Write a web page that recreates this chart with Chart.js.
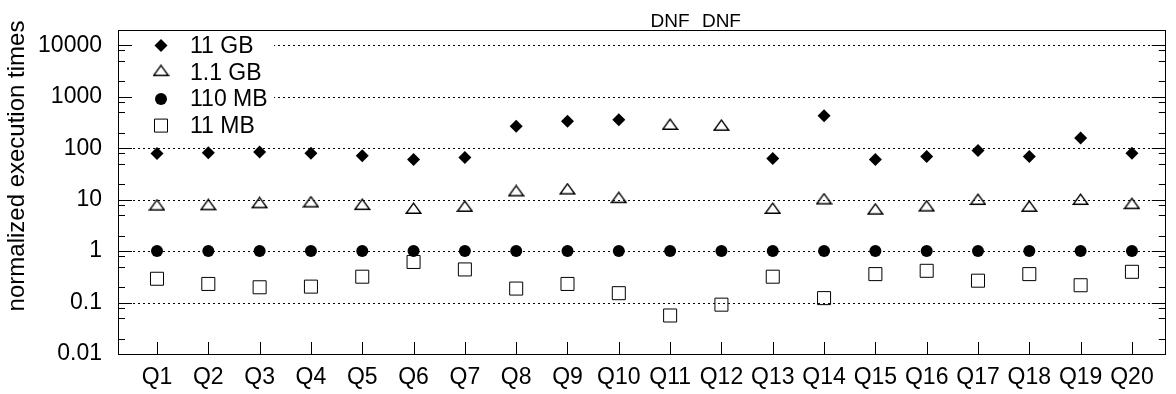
<!DOCTYPE html>
<html>
<head>
<meta charset="utf-8">
<title>Normalized execution times</title>
<script src="https://cdn.jsdelivr.net/npm/chart.js@4/dist/chart.umd.min.js"></script>
<style>
  html, body { margin: 0; padding: 0; background: #fff; }
  #wrap { width: 1176px; height: 394px; }
  canvas { display: block; }
</style>
</head>
<body>
<div id="wrap"><canvas id="chart" width="1176" height="394"></canvas></div>
<script>
// Queries on the x axis
const categories = ['Q1', 'Q2', 'Q3', 'Q4', 'Q5', 'Q6', 'Q7', 'Q8', 'Q9', 'Q10',
                    'Q11', 'Q12', 'Q13', 'Q14', 'Q15', 'Q16', 'Q17', 'Q18', 'Q19', 'Q20'];

// Execution times normalized to the 110 MB run (null = did not finish)
const gb11  = [79, 82, 84, 80, 71, 60, 66, 267, 333, 359, null, null, 63, 428, 60, 69, 90, 69, 157, 80];
const gb1_1 = [7.3, 7.4, 8.1, 8.4, 7.5, 6.3, 6.9, 13.8, 15, 10.2, 270, 260, 6.3, 9.6, 6.1, 7.0, 9.4, 6.9, 9.4, 7.8];
const mb110 = [1, 1, 1, 1, 1, 1, 1, 1, 1, 1, 1, 1, 1, 1, 1, 1, 1, 1, 1, 1];
const mb11  = [0.29, 0.23, 0.198, 0.204, 0.318, 0.615, 0.44, 0.187, 0.23, 0.152,
               0.056, 0.091, 0.318, 0.122, 0.357, 0.414, 0.266, 0.357, 0.217, 0.396];

const seriesNames = ['11 GB', '1.1 GB', '110 MB', '11 MB'];
const yTicks = [0.01, 0.1, 1, 10, 100, 1000, 10000];
const yTickLabels = ['0.01', '0.1', '1', '10', '100', '1000', '10000'];
const yMinorSteps = [2, 5, 8];
const yTitle = 'normalized execution times';
const dnfText = 'DNF';

const FONT = "'Liberation Sans', Arial, Helvetica, sans-serif";
Chart.defaults.font.family = FONT;
Chart.defaults.color = '#000';

// Open triangle marker, anchored two thirds of the way down its height
function openTriangle() {
  const c = document.createElement('canvas');
  c.width = 17; c.height = 16;
  const g = c.getContext('2d');
  g.strokeStyle = '#000';
  g.lineWidth = 1.4;
  g.lineJoin = 'miter';
  g.beginPath();
  g.moveTo(8.5, 1.2);
  g.lineTo(1.2, 11.3);
  g.lineTo(15.8, 11.3);
  g.closePath();
  g.stroke();
  return c;
}
const triangleMark = openTriangle();

const toPoints = arr => arr.map((v, i) => ({ x: i + 1, y: v }));

const datasets = [
  { label: seriesNames[0], data: toPoints(gb11), pointStyle: 'rectRot', pointRadius: 6.5,
    backgroundColor: '#000', borderColor: '#000', borderWidth: 0 },
  { label: seriesNames[1], data: toPoints(gb1_1), pointStyle: triangleMark, pointRadius: 8,
    backgroundColor: 'rgba(0,0,0,0)', borderColor: '#000', borderWidth: 1 },
  { label: seriesNames[2], data: toPoints(mb110), pointStyle: 'circle', pointRadius: 6,
    backgroundColor: '#000', borderColor: '#000', borderWidth: 0 },
  { label: seriesNames[3], data: toPoints(mb11), pointStyle: 'rect', pointRadius: 9.2,
    backgroundColor: 'rgba(0,0,0,0)', borderColor: '#000', borderWidth: 1 }
];

function drawMarker(ctx, ds, x, y) {
  ctx.save();
  ctx.fillStyle = ds.backgroundColor;
  ctx.strokeStyle = ds.borderColor;
  ctx.lineWidth = ds.borderWidth;
  Chart.helpers.drawPoint(ctx, {
    pointStyle: ds.pointStyle, radius: ds.pointRadius, rotation: 0, borderWidth: ds.borderWidth
  }, x, y);
  ctx.restore();
}

// Frame, inward tick marks, dotted grid, key and DNF annotations
const decorations = {
  id: 'decorations',
  beforeDatasetsDraw(chart) {
    const { ctx, chartArea: a, scales: { y } } = chart;
    ctx.save();
    ctx.strokeStyle = '#000';
    ctx.lineWidth = 1;
    ctx.setLineDash([2, 3]);
    yTicks.forEach(v => {
      if (v <= y.min) return;
      const py = Math.round(y.getPixelForValue(v)) + 0.5;
      ctx.beginPath();
      ctx.moveTo(a.left, py);
      ctx.lineTo(a.right, py);
      ctx.stroke();
    });
    ctx.restore();
    // opaque key background
    ctx.save();
    ctx.fillStyle = '#fff';
    ctx.fillRect(a.left + 15, a.top + 3, 141, 107);
    ctx.restore();
  },
  afterDraw(chart) {
    const { ctx, chartArea: a, scales: { x, y } } = chart;
    ctx.save();
    ctx.strokeStyle = '#000';
    ctx.lineWidth = 1;
    ctx.setLineDash([]);

    // y tick marks, left and mirrored on the right
    for (let e = -2; e <= 4; e++) {
      [1, ...yMinorSteps].forEach(m => {
        const v = m * Math.pow(10, e);
        if (v < y.min || v > y.max) return;
        const len = m === 1 ? 14 : 7;
        const py = Math.round(y.getPixelForValue(v)) + 0.5;
        ctx.beginPath();
        ctx.moveTo(a.left, py); ctx.lineTo(a.left + len, py);
        ctx.moveTo(a.right, py); ctx.lineTo(a.right - len, py);
        ctx.stroke();
      });
    }
    // x tick marks
    categories.forEach((c, i) => {
      const px = Math.round(x.getPixelForValue(i + 1)) + 0.5;
      ctx.beginPath();
      ctx.moveTo(px, a.bottom);
      ctx.lineTo(px, a.bottom - 12);
      ctx.stroke();
    });
    // frame
    ctx.strokeRect(Math.round(a.left) + 0.5, Math.round(a.top) + 0.5,
                   Math.round(a.right - a.left) - 1, Math.round(a.bottom - a.top));

    // key
    ctx.font = '23px ' + FONT;
    ctx.fillStyle = '#000';
    ctx.textAlign = 'left';
    ctx.textBaseline = 'middle';
    chart.data.datasets.forEach((ds, i) => {
      const ry = a.top + 15.7 + i * 26.7;
      drawMarker(ctx, ds, a.left + 43, ry);
      ctx.fillStyle = '#000';
      ctx.fillText(ds.label, a.left + 72, ry + 1);
    });

    // did-not-finish notes above the frame
    ctx.font = '19px ' + FONT;
    ctx.textAlign = 'center';
    ctx.textBaseline = 'alphabetic';
    gb11.forEach((v, i) => {
      if (v === null) ctx.fillText(dnfText, x.getPixelForValue(i + 1), a.top - 3);
    });

    // y axis title
    ctx.translate(17, 166);
    ctx.rotate(-Math.PI / 2);
    ctx.font = '24px ' + FONT;
    ctx.textAlign = 'center';
    ctx.textBaseline = 'middle';
    ctx.fillText(yTitle, 0, 0);
    ctx.restore();
  }
};

new Chart(document.getElementById('chart'), {
  type: 'scatter',
  data: { datasets },
  options: {
    responsive: false,
    animation: false,
    devicePixelRatio: 1,
    layout: { padding: { top: 27, right: 1, left: 0, bottom: 0 } },
    plugins: { legend: { display: false }, tooltip: { enabled: false } },
    scales: {
      x: {
        type: 'linear', min: 0.24, max: 20.66,
        grid: { display: false, drawTicks: false },
        border: { display: false },
        afterBuildTicks: s => { s.ticks = categories.map((c, i) => ({ value: i + 1 })); },
        afterFit: s => { s.height = 40; },
        ticks: {
          autoSkip: false, maxRotation: 0, padding: 10, color: '#000',
          font: { size: 23 },
          callback: v => categories[Math.round(v) - 1]
        }
      },
      y: {
        type: 'logarithmic', min: 0.01, max: 20000,
        grid: { display: false, drawTicks: false },
        border: { display: false },
        afterBuildTicks: s => { s.ticks = yTicks.map(v => ({ value: v, major: true })); },
        afterFit: s => { s.width = 118; },
        ticks: {
          autoSkip: false, padding: 16, color: '#000',
          font: { size: 23 },
          callback: (v, i) => yTickLabels[i]
        }
      }
    }
  },
  plugins: [decorations]
});
</script>
</body>
</html>
